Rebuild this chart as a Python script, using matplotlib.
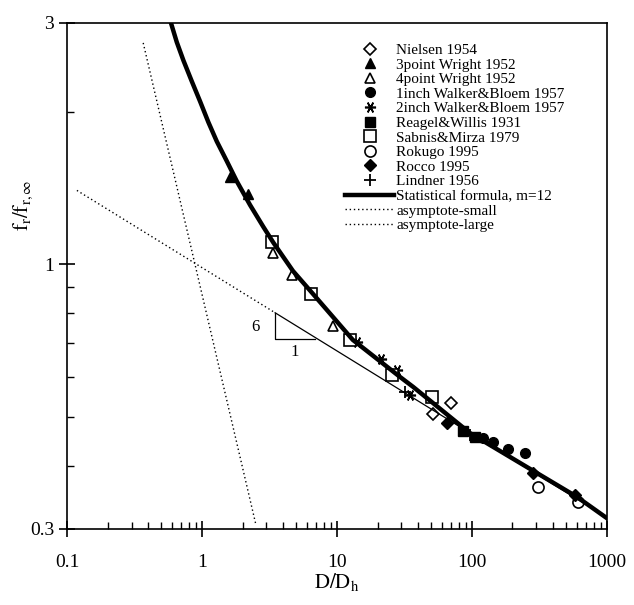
import matplotlib
matplotlib.use("Agg")
import matplotlib.pyplot as plt
from matplotlib.ticker import FixedLocator, NullFormatter

plt.rcParams['font.family'] = ['Liberation Serif', 'DejaVu Serif']
plt.rcParams['mathtext.fontset'] = 'stix'

# data (D/Dh, fr/fr,inf)
nielsen_x = [51.4, 69.9]
nielsen_y = [0.506, 0.532]
wright3_x = [1.61, 2.20]
wright3_y = [1.49, 1.38]
wright4_x = [3.36, 4.64, 6.42, 9.34]
wright4_y = [1.053, 0.953, 0.878, 0.755]
walker1_x = [120.6, 143, 185, 247]
walker1_y = [0.454, 0.446, 0.432, 0.424]
walker2_x = [14.1, 21.2, 27.8, 34.7]
walker2_y = [0.703, 0.650, 0.619, 0.552]
reagel_x = [85.8, 105]
reagel_y = [0.469, 0.456]
sabnis_x = [3.30, 6.42, 12.5, 25.5, 50.6]
sabnis_y = [1.107, 0.874, 0.709, 0.605, 0.547]
rokugo_x = [308, 610]
rokugo_y = [0.363, 0.339]
rocco_x = [65.3, 283, 580]
rocco_y = [0.486, 0.387, 0.350]
lindner_x = [31.9, 96.6]
lindner_y = [0.560, 0.460]

# statistical formula curve
curve_x = [0.588, 0.649, 0.727, 0.839, 0.966, 1.113, 1.285, 1.524, 1.807, 2.268, 2.845, 3.374,
           4.72, 6.64, 13.1, 29.3, 36.8, 96.6, 227, 600, 1000]
curve_y = [3.0, 2.75, 2.53, 2.30, 2.10, 1.91, 1.75, 1.60, 1.46, 1.31, 1.186, 1.104,
           0.97, 0.874, 0.709, 0.599, 0.572, 0.464, 0.405, 0.347, 0.315]

# asymptotes (end points)
small_x = [0.366, 2.51]
small_y = [2.74, 0.305]
large_x = [0.118, 3.48, 1000]
large_y = [1.40, 0.802, 0.316]

# slope triangle
tri_x = [3.48, 3.48, 6.86]
tri_y = [0.802, 0.712, 0.712]

fig = plt.figure(figsize=(6.34, 6.05), dpi=100)
ax = fig.add_axes([0.106, 0.126, 0.851, 0.836])

ms = 7
ax.plot(nielsen_x, nielsen_y, 'D', mfc='white', mec='black', mew=1.2, ms=6, ls='none', label='Nielsen 1954')
ax.plot(wright3_x, wright3_y, '^', color='black', ms=ms, ls='none', label='3point Wright 1952')
ax.plot(wright4_x, wright4_y, '^', mfc='white', mec='black', mew=1.2, ms=ms, ls='none', label='4point Wright 1952')
ax.plot(walker1_x, walker1_y, 'o', color='black', ms=ms, ls='none', label='1inch Walker&Bloem 1957')
ax.plot(walker2_x, walker2_y, marker=(6, 2, 90), color='black', mew=1.2, ms=8, ls='none', label='2inch Walker&Bloem 1957')
ax.plot(reagel_x, reagel_y, 's', color='black', ms=ms, ls='none', label='Reagel&Willis 1931')
ax.plot(sabnis_x, sabnis_y, 's', mfc='white', mec='black', mew=1.2, ms=8, ls='none', label='Sabnis&Mirza 1979')
ax.plot(rokugo_x, rokugo_y, 'o', mfc='white', mec='black', mew=1.2, ms=8, ls='none', label='Rokugo 1995')
ax.plot(rocco_x, rocco_y, 'D', color='black', ms=6, ls='none', label='Rocco 1995')
ax.plot(lindner_x, lindner_y, '+', color='black', mew=1.3, ms=8, ls='none', label='Lindner 1956')

ax.plot(curve_x, curve_y, '-', color='black', lw=3.2, label='Statistical formula, m=12')
ax.plot(small_x, small_y, color='black', lw=1, ls=(0, (1, 2)), label='asymptote-small')
ax.plot(large_x[:2], large_y[:2], color='black', lw=1, ls=(0, (1, 2)), label='asymptote-large')
ax.plot(large_x[1:], large_y[1:], color='black', lw=0.9)
ax.plot(tri_x, tri_y, color='black', lw=0.9)
ax.text(2.47, 0.752, '6', fontsize=12, ha='center', va='center')
ax.text(4.89, 0.671, '1', fontsize=12, ha='center', va='center')

ax.set_xscale('log')
ax.set_yscale('log')
ax.set_xlim(0.1, 1000)
ax.set_ylim(0.3, 3)

ax.yaxis.set_major_locator(FixedLocator([0.3, 1, 3]))
ax.yaxis.set_minor_locator(FixedLocator([0.4, 0.5, 0.6, 0.7, 0.8, 0.9, 2]))
ax.yaxis.set_minor_formatter(NullFormatter())
ax.set_yticklabels(['0.3', '1', '3'])
ax.set_xticks([0.1, 1, 10, 100, 1000])
ax.set_xticklabels(['0.1', '1', '10', '100', '1000'])
ax.xaxis.set_minor_formatter(NullFormatter())

ax.tick_params(which='major', direction='inout', length=12, width=1.2, labelsize=14, top=False, right=False)
ax.tick_params(which='minor', direction='in', length=5, width=1, top=False, right=False)
ax.tick_params(axis='x', which='major', pad=12)
for s in ax.spines.values():
    s.set_linewidth(1.2)

ax.set_xlabel(r'$\mathrm{D/D_h}$', fontsize=15, labelpad=0)
ax.set_ylabel(r'$\mathrm{f_r/f_{r,\infty}}$', fontsize=15)
ax.yaxis.set_label_coords(-0.06, 0.64)

ax.legend(loc='upper left', bbox_to_anchor=(0.515, 0.96), frameon=False, fontsize=11,
          labelspacing=0.06, handlelength=3.2, handletextpad=0.15, borderpad=0, borderaxespad=0)

fig.savefig('out.png', dpi=100)
